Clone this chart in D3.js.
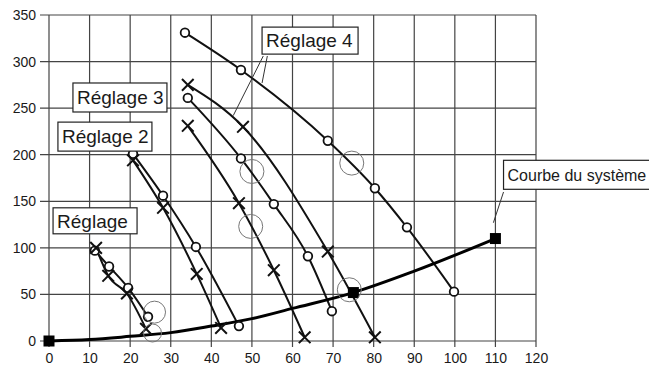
<!DOCTYPE html>
<html>
<head>
<meta charset="utf-8">
<script src="https://cdn.jsdelivr.net/npm/d3@7"></script>
<style>
  body { margin: 0; background: #fff; }
  text { font-family: Arial, "Liberation Sans", sans-serif; fill: #1a1a1a; }
</style>
</head>
<body>
<script>
// values (flow vs height)
const xTicks = [0, 10, 20, 30, 40, 50, 60, 70, 80, 90, 100, 110, 120];
const yTicks = [0, 50, 100, 150, 200, 250, 300, 350];

const reglage1Circles = [[11.3, 97], [14.8, 80], [19.5, 57], [24.4, 26]];
const reglage1Crosses = [[11.6, 100], [14.6, 70], [19.2, 51], [23.9, 13]];
const reglage2Circles = [[20.7, 201], [28.1, 156], [36.2, 101], [46.8, 16]];
const reglage2Crosses = [[20.7, 194], [28.1, 143], [36.4, 72], [42.4, 14]];
const reglage3Circles = [[34.2, 261], [47.3, 196], [55.4, 147], [63.8, 91], [69.7, 32]];
const reglage3Crosses = [[34.2, 231], [46.8, 148], [55.4, 76], [63, 4]];
const reglage4Circles = [[33.5, 331], [47.3, 291], [68.7, 215], [80.3, 164], [88.2, 122], [99.8, 53]];
const reglage4Crosses = [[34.2, 275], [47.8, 230], [68.7, 96], [80.3, 4]];

const systemCurve = [[0, 0], [10, 1.5], [20, 5], [30, 9], [40, 16], [50, 24], [60, 35], [75, 52], [90, 75], [110, 110]];
const systemSquares = [[0, 0], [75, 52], [110, 110]];

// hand drawn rings round the operating points
const rings = [[26, 31], [25.5, 8.6], [50, 182], [49.7, 123], [74.6, 191], [74, 55]];
const ringRadius = [11, 9, 12, 12, 12, 12];

const labels = ["Réglage", "Réglage 2", "Réglage 3", "Réglage 4", "Courbe du système"];

const margin = { top: 15, right: 113, bottom: 33, left: 49 },
      width = 649 - margin.left - margin.right,
      height = 374 - margin.top - margin.bottom;

let x = d3.scaleLinear().domain([0, 120]).range([0, width]);
let y = d3.scaleLinear().domain([0, 350]).range([height, 0]);

let svg = d3.select("body").append("svg")
    .attr("width", 649)
    .attr("height", 374)
    .append("g")
    .attr("transform", "translate(" + margin.left + "," + margin.top + ")");

// grid
svg.append("g")
    .selectAll("line")
    .data(xTicks)
    .enter().append("line")
    .attr("x1", d => x(d)).attr("x2", d => x(d))
    .attr("y1", 0).attr("y2", height + 6)
    .attr("stroke", "#444").attr("stroke-width", 1.2);

svg.append("g")
    .selectAll("line")
    .data(yTicks)
    .enter().append("line")
    .attr("x1", -9).attr("x2", width)
    .attr("y1", d => y(d)).attr("y2", d => y(d))
    .attr("stroke", "#444").attr("stroke-width", 1.2);

// axis labels
let xAxis = svg.append("g")
    .attr("transform", "translate(0," + height + ")")
    .call(d3.axisBottom(x).tickValues(xTicks).tickSize(0).tickPadding(12));
let yAxis = svg.append("g")
    .call(d3.axisLeft(y).tickValues(yTicks).tickSize(0).tickPadding(13));
[xAxis, yAxis].forEach(a => {
    a.select(".domain").remove();
    a.selectAll("text").style("font-size", "14px").style("font-family", "Arial, 'Liberation Sans', sans-serif").attr("fill", "#222");
});

let line = d3.line()
    .x(d => x(d[0]))
    .y(d => y(d[1]))
    .curve(d3.curveMonotoneX);

const series = [reglage1Circles, reglage1Crosses, reglage2Circles, reglage2Crosses,
                reglage3Circles, reglage3Crosses, reglage4Circles, reglage4Crosses];

svg.selectAll(".curve")
    .data(series)
    .enter().append("path")
    .attr("class", "curve")
    .attr("d", line)
    .attr("fill", "none")
    .attr("stroke", "#111")
    .attr("stroke-width", 2);

// system curve
svg.append("path")
    .datum(systemCurve)
    .attr("d", line)
    .attr("fill", "none")
    .attr("stroke", "#000")
    .attr("stroke-width", 3);

// circle markers
[reglage1Circles, reglage2Circles, reglage3Circles, reglage4Circles].forEach(s => {
    svg.append("g").selectAll("circle")
        .data(s)
        .enter().append("circle")
        .attr("cx", d => x(d[0]))
        .attr("cy", d => y(d[1]))
        .attr("r", 4.3)
        .attr("fill", "#fff")
        .attr("stroke", "#111")
        .attr("stroke-width", 1.8);
});

// cross markers
let cross = d3.symbol().type(d3.symbolX).size(90);
[reglage1Crosses, reglage2Crosses, reglage3Crosses, reglage4Crosses].forEach(s => {
    svg.append("g").selectAll("path")
        .data(s)
        .enter().append("path")
        .attr("d", cross)
        .attr("transform", d => "translate(" + x(d[0]) + "," + y(d[1]) + ")")
        .attr("fill", "none")
        .attr("stroke", "#111")
        .attr("stroke-width", 2);
});

svg.selectAll(".sq")
    .data(systemSquares)
    .enter().append("rect")
    .attr("class", "sq")
    .attr("x", d => x(d[0]) - 5.5)
    .attr("y", d => y(d[1]) - 5.5)
    .attr("width", 11).attr("height", 11)
    .attr("fill", "#000");

svg.selectAll(".ring")
    .data(rings)
    .enter().append("circle")
    .attr("class", "ring")
    .attr("cx", d => x(d[0]))
    .attr("cy", d => y(d[1]))
    .attr("r", (d, i) => ringRadius[i])
    .attr("fill", "none")
    .attr("stroke", "#777")
    .attr("stroke-width", 1);

// leader lines
const leaders = [
    [[52.8, 306], [45.4, 242]],
    [[53.8, 306], [52.5, 277]],
    [[112, 160], [109.5, 127]]
];
leaders.forEach(l => {
    svg.append("line")
        .attr("x1", x(l[0][0])).attr("y1", y(l[0][1]))
        .attr("x2", x(l[1][0])).attr("y2", y(l[1][1]))
        .attr("stroke", "#333").attr("stroke-width", 1);
});

// label boxes: [x, y] top-left in data units, box w/h, font size
const boxes = [
    { pos: [1, 143], w: 84, h: 26, fs: 19 },
    { pos: [2.2, 235], w: 94, h: 29, fs: 19 },
    { pos: [5.9, 277], w: 94, h: 29, fs: 19 },
    { pos: [52.5, 337], w: 96, h: 27, fs: 19 },
    { pos: [112, 194], w: 150, h: 29, fs: 16 }
];
boxes.forEach((b, i) => {
    let g = svg.append("g")
        .attr("transform", "translate(" + x(b.pos[0]) + "," + y(b.pos[1]) + ")");
    g.append("rect")
        .attr("width", b.w).attr("height", b.h)
        .attr("fill", "#fff")
        .attr("stroke", "#222").attr("stroke-width", 1.2);
    g.append("text")
        .attr("x", 4).attr("y", b.h / 2)
        .attr("dy", "0.36em")
        .style("font-size", b.fs + "px")
        .text(labels[i]);
});
</script>
</body>
</html>
